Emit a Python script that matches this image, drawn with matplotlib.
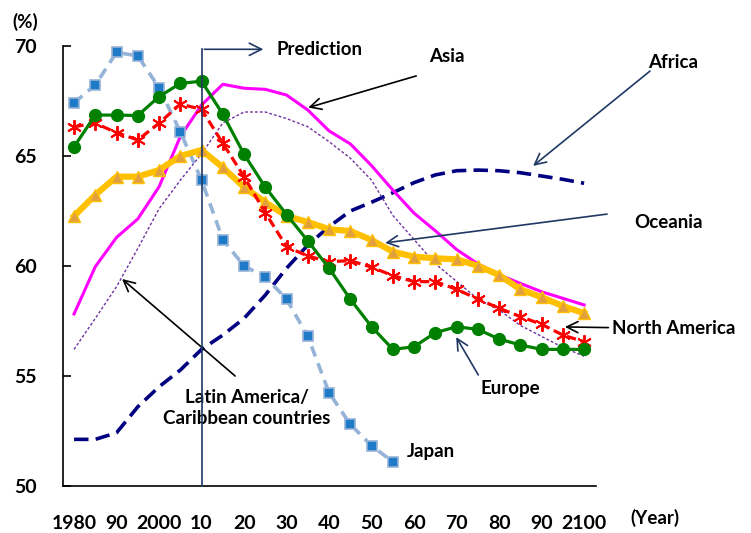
import matplotlib
matplotlib.use("Agg")
import matplotlib.pyplot as plt

plt.rcParams['font.family'] = ['Lato', 'DejaVu Sans']
plt.rcParams['font.weight'] = 'bold'

years = list(range(1980, 2101, 5))

japan = [67.42, 68.23, 69.71, 69.55, 68.1, 66.1, 63.9, 61.2, 60.0, 59.5, 58.49,
         56.8, 54.24, 52.8, 51.83, 51.1]
europe = [65.42, 66.86, 66.86, 66.84, 67.7, 68.3, 68.4, 66.9, 65.08, 63.58, 62.34,
          61.14, 59.9, 58.49, 57.24, 56.21, 56.33, 56.97, 57.24, 57.12, 56.68,
          56.41, 56.21, 56.21, 56.21]
north_america = [66.33, 66.49, 66.06, 65.73, 66.49, 67.36, 67.12, 65.58, 64.06,
                 62.42, 60.88, 60.45, 60.2, 60.24, 59.95, 59.56, 59.29, 59.29,
                 58.94, 58.5, 58.08, 57.7, 57.35, 56.86, 56.56]
oceania = [62.27, 63.23, 64.06, 64.06, 64.36, 65.0, 65.27, 64.48, 63.58, 62.9,
           62.27, 62.0, 61.67, 61.59, 61.18, 60.65, 60.42, 60.35, 60.3, 60.01,
           59.59, 58.94, 58.58, 58.18, 57.85]
asia = [57.82, 59.97, 61.3, 62.14, 63.6, 65.88, 67.32, 68.26, 68.08, 68.03, 67.77,
        67.09, 66.14, 65.55, 64.56, 63.45, 62.4, 61.6, 60.75, 60.1, 59.6, 59.21,
        58.83, 58.53, 58.23]
latin_america = [56.21, 57.62, 59.06, 60.8, 62.6, 63.9, 65.1, 66.5, 67.0, 67.0,
                 66.7, 66.33, 65.65, 64.9, 63.9, 62.3, 61.2, 60.1, 59.3, 58.5,
                 58.0, 57.3, 56.8, 56.3, 55.9]
africa = [52.12, 52.12, 52.42, 53.6, 54.51, 55.27, 56.21, 56.86, 57.62, 58.68,
          59.9, 60.95, 61.79, 62.5, 62.9, 63.33, 63.79, 64.14, 64.33, 64.36,
          64.33, 64.24, 64.09, 63.94, 63.76]

xtick_pos = list(range(1980, 2101, 10))
xtick_labels = ['1980', '90', '2000', '10', '20', '30', '40', '50', '60', '70',
                '80', '90', '2100']
ytick_pos = [50, 55, 60, 65, 70]

fig = plt.figure(figsize=(7.51, 5.33), dpi=100)
ax = fig.add_axes([63/751, 1-486/533, (596-63)/751, (486-46)/533])

ax.plot(years, africa, color='#000080', lw=2.6, ls=(0, (4, 2)), zorder=2)
ax.plot(years, latin_america, color='#7030A0', lw=1.0, ls=(0, (2, 1.5)), zorder=2)
ax.plot(years, asia, color='#FF00FF', lw=2.2, zorder=3)
ax.plot(years[:len(japan)], japan, color='#95B3D7', lw=2.6, ls=(0, (3, 2)),
        marker='s', ms=7.5, mfc='#1F7BC8', mec='#95B3D7', mew=1.2, zorder=4)
ax.plot(years, oceania, color='#FFC000', lw=4.5, marker='^', ms=9,
        mfc='#E0A040', mec='#FFC000', mew=1.0, zorder=4)
ax.plot(years, north_america, color='#FF0000', lw=2.3, ls=(0, (3, 1.5)),
        marker=(6, 2, 0), ms=10.5, mec='#FF0000', mew=1.4, zorder=5)
ax.plot(years, europe, color='#008000', lw=2.3, marker='o', ms=8.5,
        mfc='#008000', mec='#008000', zorder=6)

ax.set_xlim(1977.4, 2102.8)
ax.set_ylim(50, 70)
ax.set_xticks(xtick_pos)
ax.set_xticklabels(xtick_labels)
ax.set_yticks(ytick_pos)
for s in ['top', 'right']:
    ax.spines[s].set_visible(False)
ax.spines['left'].set_linewidth(1.2)
ax.spines['bottom'].set_linewidth(1.2)
ax.tick_params(axis='x', length=0, pad=21, labelsize=14)
ax.tick_params(axis='y', direction='in', length=6, width=1.2, pad=19, labelsize=14)
for lab in ax.get_xticklabels() + ax.get_yticklabels():
    lab.set_fontweight('bold')

FS = 13.5

# Prediction marker
line_c = '#1F3864'
ax.plot([2010, 2010], [50, 69.85], color=line_c, lw=1.2, zorder=7, clip_on=False)
ax.annotate('', xy=(2025.2, 69.85), xytext=(2010, 69.85),
            arrowprops=dict(arrowstyle='->', color=line_c, lw=1.2, mutation_scale=22),
            annotation_clip=False)
ax.text(2027.6, 69.85, 'Prediction', fontsize=FS, fontweight='bold',
        va='center', ha='left')

def note(text, xy, xytext_arrow, color, text_xy, ha='center', va='center'):
    ax.annotate('', xy=xy, xytext=xytext_arrow,
                arrowprops=dict(arrowstyle='->', color=color, lw=1.2,
                                mutation_scale=20, shrinkA=0, shrinkB=0),
                annotation_clip=False)
    ax.text(text_xy[0], text_xy[1], text, fontsize=FS, fontweight='bold',
            ha=ha, va=va, clip_on=False, linespacing=1.3)

note('Asia', (2035.1, 67.2), (2060.5, 68.64), 'black', (2067.8, 69.5))
note('Africa', (2088, 64.55), (2115.5, 68.86), line_c, (2121.0, 69.27))
note('Oceania', (2053.2, 61.05), (2105.4, 62.36), line_c, (2119.8, 62.0))
note('North America', (2095.5, 57.23), (2105.7, 57.2), 'black', (2106.6, 57.18), ha='left')
note('Europe', (2069.9, 56.77), (2075.1, 55.05), line_c, (2082.6, 54.45))
note('Latin America/\nCaribbean countries', (1991.3, 59.41), (2017.9, 55.0), 'black',
     (2020.7, 53.55))
ax.text(2058.4, 51.55, 'Japan', fontsize=FS, fontweight='bold', ha='left', va='center')

fig.text(25/751, 1-22/533, '(%)', fontsize=FS, fontweight='bold', ha='center', va='center')
fig.text(655/751, 1-518/533, '(Year)', fontsize=FS, fontweight='bold', ha='center', va='center')

fig.savefig('out.png', dpi=100)
